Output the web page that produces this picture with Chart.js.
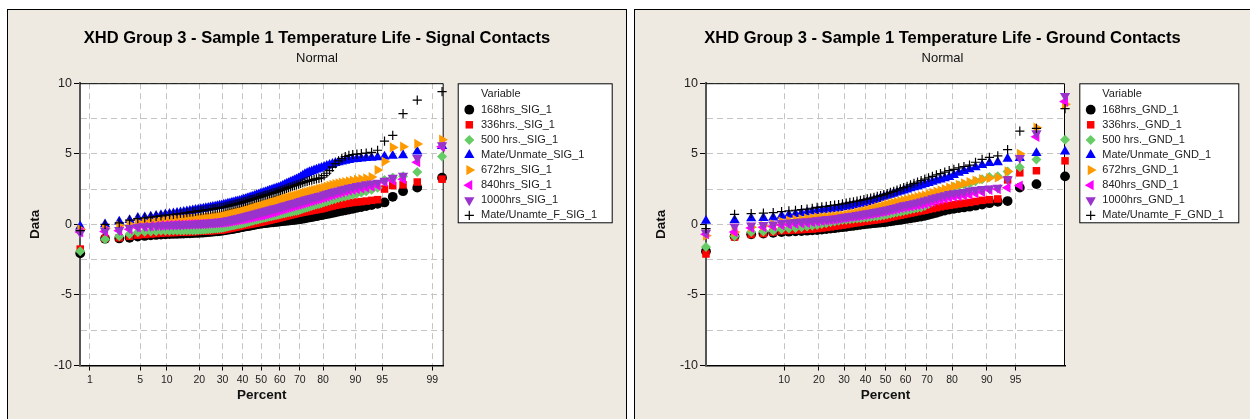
<!DOCTYPE html>
<html><head><meta charset="utf-8">
<script src="https://cdn.jsdelivr.net/npm/chart.js@4/dist/chart.umd.min.js"></script>
<style>
html,body{margin:0;padding:0;background:#fff;width:1250px;height:419px;overflow:hidden;}
.panel{position:absolute;top:9px;height:420px;background:#EEEAE1;border:1px solid #000;box-sizing:border-box;}
#p1{left:7px;width:620px;}
#p2{left:634px;width:630px;}
canvas{position:absolute;}
#c1{left:8px;top:10px;}
#c2{left:635px;top:10px;}
</style></head>
<body>
<div class="panel" id="p1"></div>
<div class="panel" id="p2"></div>
<canvas id="c1" width="618" height="409"></canvas>
<canvas id="c2" width="615" height="409"></canvas>
<script>
// ---------- tick labels ----------
const sigPercentTicks = [1,5,10,20,30,40,50,60,70,80,90,95,99];
const gndPercentTicks = [10,20,30,40,50,60,70,80,90,95];
const yGridValues = [-10,-7.5,-5,-2.5,0,2.5,5,7.5,10];
const yTickLabels = ['-10','','-5','','0','','5','','10'];

// ---------- series names ----------
const sigNames = ['168hrs_SIG_1','336hrs._SIG_1','500 hrs._SIG_1','Mate/Unmate_SIG_1','672hrs_SIG_1','840hrs_SIG_1','1000hrs_SIG_1','Mate/Unamte_F_SIG_1'];
const gndNames = ['168hrs_GND_1','336hrs._GND_1','500 hrs._GND_1','Mate/Unmate_GND_1','672hrs_GND_1','840hrs_GND_1','1000hrs_GND_1','Mate/Unamte_F_GND_1'];

// ---------- Signal contacts data (sorted, 100 values each) ----------
const sig168 = [-2.05,-1.02,-1.0,-0.95,-0.86,-0.82,-0.78,-0.75,-0.72,-0.7,
-0.69,-0.68,-0.67,-0.66,-0.65,-0.64,-0.63,-0.62,-0.61,-0.6,
-0.59,-0.58,-0.56,-0.55,-0.53,-0.52,-0.5,-0.49,-0.47,-0.45,
-0.43,-0.41,-0.38,-0.36,-0.33,-0.31,-0.28,-0.26,-0.23,-0.2,
-0.18,-0.15,-0.13,-0.1,-0.08,-0.05,-0.03,0.0,0.02,0.05,
0.06,0.08,0.09,0.11,0.12,0.14,0.15,0.17,0.18,0.2,
0.21,0.23,0.24,0.26,0.27,0.29,0.3,0.32,0.33,0.35,
0.38,0.4,0.43,0.46,0.49,0.52,0.55,0.58,0.62,0.65,
0.69,0.73,0.77,0.81,0.85,0.9,0.95,1.0,1.05,1.1,
1.17,1.23,1.3,1.37,1.45,1.55,1.95,2.35,2.6,3.3];
const sig336 = [-1.75,-1.0,-0.95,-0.85,-0.76,-0.72,-0.68,-0.65,-0.62,-0.6,
-0.59,-0.58,-0.57,-0.56,-0.55,-0.54,-0.53,-0.52,-0.51,-0.5,
-0.49,-0.48,-0.47,-0.46,-0.45,-0.44,-0.43,-0.42,-0.41,-0.4,
-0.37,-0.34,-0.31,-0.28,-0.25,-0.22,-0.19,-0.16,-0.13,-0.1,
-0.07,-0.05,-0.02,0.0,0.03,0.05,0.08,0.1,0.13,0.15,
0.18,0.21,0.24,0.27,0.3,0.33,0.36,0.39,0.42,0.45,
0.49,0.52,0.56,0.59,0.63,0.66,0.7,0.73,0.77,0.8,
0.83,0.86,0.89,0.92,0.95,0.98,1.01,1.04,1.07,1.1,
1.15,1.2,1.25,1.3,1.35,1.39,1.43,1.47,1.51,1.55,
1.58,1.61,1.65,1.7,1.75,2.5,2.75,2.8,3.0,3.2];
const sig500 = [-1.9,-1.05,-0.85,-0.7,-0.56,-0.53,-0.5,-0.48,-0.46,-0.45,
-0.45,-0.44,-0.44,-0.43,-0.43,-0.42,-0.42,-0.41,-0.41,-0.4,
-0.39,-0.38,-0.36,-0.35,-0.33,-0.32,-0.3,-0.29,-0.27,-0.25,
-0.22,-0.19,-0.15,-0.12,-0.09,-0.06,-0.03,0.0,0.02,0.05,
0.09,0.12,0.16,0.19,0.23,0.26,0.3,0.33,0.37,0.4,
0.43,0.46,0.49,0.52,0.55,0.58,0.61,0.64,0.67,0.7,
0.73,0.76,0.79,0.82,0.85,0.88,0.91,0.94,0.97,1.0,
1.05,1.1,1.15,1.2,1.25,1.3,1.35,1.4,1.45,1.5,
1.56,1.62,1.68,1.74,1.8,1.86,1.92,1.98,2.04,2.1,
2.18,2.26,2.35,2.45,2.6,3.15,3.3,3.4,3.7,4.8];
const sigMate = [-0.15,0.0,0.2,0.3,0.45,0.5,0.55,0.6,0.65,0.7,
0.74,0.77,0.81,0.84,0.88,0.91,0.95,0.98,1.02,1.05,
1.08,1.11,1.14,1.17,1.2,1.23,1.26,1.29,1.32,1.35,
1.39,1.42,1.46,1.49,1.53,1.56,1.6,1.63,1.67,1.7,
1.75,1.79,1.84,1.88,1.93,1.97,2.02,2.06,2.11,2.15,
2.2,2.24,2.29,2.33,2.38,2.42,2.47,2.51,2.56,2.6,
2.66,2.73,2.79,2.86,2.92,2.99,3.05,3.12,3.18,3.25,
3.35,3.45,3.55,3.62,3.7,3.76,3.82,3.88,3.94,4.0,
4.07,4.14,4.21,4.28,4.35,4.4,4.45,4.5,4.55,4.6,
4.63,4.67,4.7,4.72,4.75,4.8,4.85,4.9,5.15,5.55];
const sig672 = [-0.35,-0.3,-0.1,0.0,0.14,0.18,0.21,0.24,0.27,0.3,
0.31,0.33,0.34,0.36,0.37,0.39,0.4,0.42,0.43,0.45,
0.46,0.48,0.49,0.51,0.52,0.54,0.55,0.57,0.58,0.6,
0.64,0.67,0.71,0.74,0.78,0.81,0.85,0.88,0.92,0.95,
0.99,1.02,1.06,1.09,1.13,1.16,1.2,1.23,1.27,1.3,
1.34,1.38,1.42,1.46,1.5,1.54,1.58,1.62,1.66,1.7,
1.74,1.78,1.82,1.86,1.9,1.94,1.98,2.02,2.06,2.1,
2.15,2.19,2.24,2.28,2.33,2.37,2.42,2.46,2.51,2.55,
2.61,2.67,2.73,2.79,2.85,2.9,2.95,3.0,3.05,3.1,
3.15,3.2,3.25,3.35,3.85,4.45,5.45,5.5,5.7,6.0];
const sig840 = [-0.55,-0.5,-0.45,-0.35,-0.22,-0.17,-0.13,-0.1,-0.07,-0.05,
-0.04,-0.03,-0.02,-0.02,-0.01,0.0,0.0,0.01,0.01,0.02,
0.03,0.04,0.05,0.06,0.07,0.08,0.09,0.1,0.11,0.12,
0.14,0.16,0.19,0.21,0.24,0.26,0.28,0.31,0.33,0.35,
0.38,0.41,0.44,0.47,0.5,0.53,0.56,0.59,0.62,0.63,
0.66,0.7,0.73,0.77,0.8,0.84,0.87,0.91,0.95,1.0,
1.04,1.08,1.12,1.16,1.2,1.24,1.28,1.32,1.36,1.4,
1.45,1.49,1.54,1.58,1.63,1.67,1.72,1.76,1.8,1.85,
1.91,1.97,2.03,2.09,2.15,2.21,2.27,2.33,2.39,2.45,
2.5,2.55,2.6,2.67,2.75,3.0,3.1,3.2,4.4,5.5];
const sig1000 = [-0.6,-0.45,-0.4,-0.25,-0.16,-0.13,-0.11,-0.09,-0.07,-0.05,
-0.04,-0.03,-0.02,-0.01,0.0,0.01,0.02,0.03,0.04,0.05,
0.06,0.08,0.09,0.11,0.12,0.14,0.15,0.17,0.18,0.2,
0.23,0.26,0.29,0.32,0.35,0.38,0.41,0.44,0.47,0.5,
0.54,0.57,0.61,0.64,0.68,0.71,0.75,0.78,0.82,0.85,
0.89,0.92,0.96,0.99,1.03,1.06,1.1,1.13,1.17,1.2,
1.24,1.28,1.32,1.36,1.4,1.44,1.48,1.52,1.56,1.6,
1.65,1.69,1.74,1.78,1.83,1.87,1.92,1.96,2.01,2.05,
2.11,2.17,2.23,2.29,2.35,2.41,2.47,2.53,2.59,2.65,
2.72,2.78,2.85,2.9,2.95,3.1,3.3,3.45,4.7,5.6];
const sigMateF = [-0.45,0.0,0.1,0.3,0.4,0.46,0.51,0.56,0.6,0.65,
0.68,0.71,0.74,0.77,0.8,0.83,0.86,0.89,0.92,0.95,
0.97,1.0,1.02,1.05,1.07,1.1,1.12,1.15,1.17,1.2,
1.23,1.27,1.3,1.34,1.37,1.41,1.44,1.48,1.51,1.55,
1.59,1.63,1.67,1.71,1.75,1.79,1.83,1.87,1.91,1.95,
1.99,2.03,2.07,2.11,2.15,2.19,2.23,2.27,2.31,2.35,
2.4,2.45,2.5,2.55,2.6,2.65,2.7,2.75,2.8,2.85,
2.9,2.95,3.0,3.05,3.1,3.14,3.18,3.22,3.26,3.3,
3.45,3.62,3.8,4.05,4.3,4.5,4.65,4.8,4.88,4.95,
4.98,5.02,5.05,5.1,5.25,5.9,6.3,7.85,8.8,9.4];

// ---------- Ground contacts data (sorted, 60 values each) ----------
const gnd168 = [-1.9,-0.85,-0.7,-0.65,-0.6,-0.55,-0.52,-0.5,-0.47,-0.45,
-0.42,-0.4,-0.37,-0.34,-0.3,-0.27,-0.23,-0.2,-0.17,-0.13,
-0.1,-0.07,-0.03,0.0,0.03,0.05,0.08,0.1,0.13,0.15,
0.18,0.21,0.25,0.28,0.31,0.35,0.39,0.43,0.47,0.51,
0.55,0.6,0.67,0.74,0.82,0.9,0.97,1.05,1.1,1.15,
1.2,1.25,1.32,1.4,1.5,1.6,1.65,2.6,2.85,3.4];
const gnd336 = [-2.1,-0.9,-0.72,-0.65,-0.55,-0.45,-0.43,-0.4,-0.38,-0.35,
-0.33,-0.3,-0.26,-0.22,-0.18,-0.13,-0.09,-0.05,-0.01,0.04,
0.08,0.12,0.16,0.2,0.23,0.27,0.3,0.33,0.37,0.4,
0.45,0.5,0.55,0.6,0.65,0.7,0.75,0.8,0.85,0.9,
0.95,1.0,1.06,1.12,1.18,1.24,1.3,1.35,1.4,1.45,
1.5,1.55,1.62,1.7,1.75,1.8,3.15,3.65,3.8,4.5];
const gnd500 = [-1.6,-0.85,-0.55,-0.5,-0.45,-0.35,-0.3,-0.25,-0.2,-0.15,
-0.1,-0.05,0.02,0.08,0.15,0.2,0.25,0.3,0.33,0.36,
0.39,0.42,0.44,0.46,0.49,0.52,0.55,0.58,0.61,0.65,
0.7,0.75,0.8,0.85,0.9,0.95,1.0,1.05,1.1,1.15,
1.2,1.3,1.45,1.6,1.8,2.0,2.25,2.5,2.65,2.75,
2.82,2.9,3.05,3.2,3.35,3.4,3.75,4.05,4.6,6.0];
const gndMate = [0.25,0.3,0.42,0.45,0.48,0.6,0.67,0.73,0.79,0.84,
0.9,0.95,0.99,1.03,1.07,1.11,1.15,1.2,1.25,1.3,
1.35,1.4,1.45,1.5,1.57,1.64,1.72,1.8,1.88,1.95,
2.02,2.1,2.17,2.25,2.32,2.4,2.47,2.55,2.62,2.7,
2.77,2.85,2.93,3.01,3.1,3.18,3.27,3.35,3.5,3.65,
3.78,3.9,4.05,4.2,4.35,4.4,4.65,4.7,5.05,5.15];
const gnd672 = [-0.8,-0.55,-0.2,-0.1,0.0,0.2,0.27,0.33,0.38,0.42,
0.46,0.5,0.53,0.55,0.58,0.6,0.63,0.65,0.7,0.75,
0.8,0.85,0.9,0.95,1.02,1.08,1.15,1.22,1.28,1.35,
1.41,1.47,1.53,1.58,1.64,1.7,1.76,1.82,1.88,1.94,
2.0,2.05,2.14,2.23,2.32,2.41,2.5,2.6,2.7,2.8,
2.9,3.0,3.1,3.2,3.28,3.32,3.75,5.0,6.85,8.5];
const gnd840 = [-0.7,-0.55,-0.25,-0.2,-0.15,-0.05,-0.01,0.03,0.07,0.11,
0.15,0.2,0.24,0.28,0.32,0.36,0.4,0.45,0.48,0.52,
0.55,0.58,0.62,0.65,0.69,0.73,0.77,0.81,0.86,0.9,
0.95,1.0,1.05,1.1,1.15,1.2,1.24,1.28,1.32,1.36,
1.4,1.45,1.52,1.6,1.68,1.75,1.83,1.9,1.95,2.0,
2.05,2.1,2.2,2.3,2.45,2.5,2.6,2.75,6.2,8.7];
const gnd1000 = [-0.6,-0.15,-0.08,-0.04,0.0,0.1,0.14,0.17,0.2,0.23,
0.26,0.3,0.33,0.36,0.39,0.42,0.46,0.5,0.54,0.58,
0.62,0.66,0.7,0.75,0.79,0.83,0.87,0.91,0.96,1.0,
1.05,1.1,1.16,1.22,1.28,1.35,1.4,1.45,1.5,1.55,
1.62,1.7,1.77,1.85,1.92,2.0,2.07,2.15,2.2,2.25,
2.3,2.4,2.45,2.5,2.55,2.6,3.2,4.7,6.45,9.1];
const gndMateF = [-0.3,0.7,0.76,0.8,0.83,0.9,0.95,1.0,1.05,1.08,
1.14,1.2,1.24,1.28,1.32,1.36,1.4,1.45,1.5,1.55,
1.6,1.65,1.7,1.75,1.8,1.86,1.92,1.98,2.04,2.1,
2.18,2.26,2.34,2.42,2.51,2.6,2.7,2.8,2.9,3.0,
3.1,3.2,3.3,3.4,3.5,3.6,3.7,3.8,3.9,4.0,
4.1,4.2,4.4,4.6,4.75,4.85,5.3,6.6,6.8,8.2];

const sigSeries = [sig168, sig336, sig500, sigMate, sig672, sig840, sig1000, sigMateF];
const gndSeries = [gnd168, gnd336, gnd500, gndMate, gnd672, gnd840, gnd1000, gndMateF];

// ---------- marker styles ----------
const markerColors = ['#000000','#FF0000','#66CC66','#0000FF','#FF9900','#FF00FF','#9933CC','#000000'];
const markerStyles = ['circle','rect','rectRot','triangle','triangle','triangle','triangle','cross'];
const markerRot = [0,0,0,0,90,-90,180,0];
const markerRadius = [4.9,5.3,5.0,5.9,5.9,5.9,5.9,4.6];

const FONT = "'Liberation Sans', Arial, sans-serif";

// inverse standard normal CDF (probability scale transform)
function probit(p){
  const a=[-3.969683028665376e+01,2.209460984245205e+02,-2.759285104469687e+02,1.383577518672690e+02,-3.066479806614716e+01,2.506628277459239e+00];
  const b=[-5.447609879822406e+01,1.615858368580409e+02,-1.556989798598866e+02,6.680131188771720e+01,-1.328068155288572e+01];
  const c=[-7.784894002430293e-03,-3.223964580411365e-01,-2.400758277161838e+00,-2.549671010249599e+00,4.374664141464968e+00,2.938163982698783e+00];
  const d=[7.784695709041462e-03,3.224671290700398e-01,2.445134137142996e+00,3.754408661907416e+00];
  const pl=0.02425, ph=1-pl; let q,r;
  if(p<pl){q=Math.sqrt(-2*Math.log(p));return (((((c[0]*q+c[1])*q+c[2])*q+c[3])*q+c[4])*q+c[5])/((((d[0]*q+d[1])*q+d[2])*q+d[3])*q+1);}
  if(p<=ph){q=p-0.5;r=q*q;return (((((a[0]*r+a[1])*r+a[2])*r+a[3])*r+a[4])*r+a[5])*q/(((((b[0]*r+b[1])*r+b[2])*r+b[3])*r+b[4])*r+1);}
  q=Math.sqrt(-2*Math.log(1-p));return -(((((c[0]*q+c[1])*q+c[2])*q+c[3])*q+c[4])*q+c[5])/((((d[0]*q+d[1])*q+d[2])*q+d[3])*q+1);
}

const probPlot = {
  id: 'probPlot',
  beforeDraw(chart){
    const {ctx, chartArea:a} = chart;
    ctx.save(); ctx.fillStyle='#fff'; ctx.fillRect(a.left,a.top,a.right-a.left,a.bottom-a.top); ctx.restore();
  },
  beforeDatasetsDraw(chart){
    const {ctx, chartArea:a} = chart;
    ctx.save(); ctx.strokeStyle='#000'; ctx.lineWidth=1;
    ctx.beginPath(); ctx.moveTo(a.left,a.top+0.5); ctx.lineTo(a.right-0.5,a.top+0.5); ctx.lineTo(a.right-0.5,a.bottom); ctx.stroke();
    ctx.restore();
  },
  afterDraw(chart, args, o){
    const ctx = chart.ctx;
    ctx.save();
    ctx.fillStyle='#fff'; ctx.fillRect(o.x,o.y,o.w,o.h);
    ctx.strokeStyle='#000'; ctx.lineWidth=1; ctx.strokeRect(o.x+0.5,o.y+0.5,o.w-1,o.h-1);
    ctx.font = '11px ' + FONT; ctx.textBaseline='middle'; ctx.textAlign='left';
    ctx.fillStyle='#222'; ctx.fillText('Variable', o.textX, o.titleY);
    chart.data.datasets.forEach((ds,k)=>{
      const y = o.row0 + k*o.rowStep;
      ctx.fillStyle = ds.backgroundColor; ctx.strokeStyle = ds.borderColor; ctx.lineWidth = ds.pointBorderWidth || 1;
      Chart.helpers.drawPoint(ctx, {pointStyle: ds.pointStyle, rotation: ds.pointRotation||0, radius: ds.pointRadius, borderWidth: ds.pointBorderWidth||0}, o.markerX, y);
      ctx.fillStyle='#222'; ctx.fillText(ds.label, o.textX, y);
    });
    ctx.restore();
  }
};

function makeChart(id, cfg){
  const n = cfg.series[0].length;
  const datasets = cfg.series.map((vals,k)=>({
    label: cfg.names[k],
    data: vals.map((v,i)=>({x: probit((i+1-0.3)/(n+0.4)), y: v})),
    pointStyle: markerStyles[k], pointRotation: markerRot[k], pointRadius: markerRadius[k],
    pointHoverRadius: markerRadius[k],
    backgroundColor: markerColors[k], borderColor: markerColors[k],
    pointBorderWidth: k===7 ? 1.2 : 0,
    showLine: false, clip: false, order: 7-k
  }));
  const pct = cfg.percentTicks;
  return new Chart(document.getElementById(id), {
    type: 'scatter',
    data: {datasets},
    options: {
      responsive: false, animation: false, events: [],
      layout: {padding: {top:0,left:0,right:0,bottom:cfg.padBottom}},
      plugins: {
        legend: {display:false}, tooltip: {enabled:false},
        title: {display:true, text: cfg.title, color:'#000', font:{family:FONT,size:16.5,weight:'bold'}, padding:{top:19,bottom:0}},
        subtitle: {display:true, text:'Normal', color:'#111', font:{family:FONT,size:13}, padding:{top:2,bottom:cfg.subPadBottom}},
        probPlot: cfg.legend
      },
      scales: {
        x: {
          type:'linear', position:'bottom', min: cfg.xmin, max: cfg.xmax,
          afterBuildTicks: s => { s.ticks = pct.map(p=>({value: probit(p/100)})); },
          afterFit: s => { s.height = 50; },
          ticks: {autoSkip:false, maxRotation:0, padding:3, color:'#222', font:{family:FONT,size:10.5},
                  callback: (v,i) => String(pct[i])},
          grid: {color:'#C4C4C4', lineWidth:1, drawTicks:true, tickLength:5, tickColor:'#000', tickWidth:1, tickBorderDash:[]},
          border: {display:true, color:'#000', width:1.5, dash:[6,4]},
          title: {display:true, text:'Percent', color:'#111', font:{family:FONT,size:13.5,weight:'bold'}, padding:{top:0,bottom:12.4}}
        },
        y: {
          type:'linear', position:'left', min:-10, max:10,
          afterBuildTicks: s => { s.ticks = yGridValues.map(v=>({value:v})); },
          afterFit: s => { s.width = cfg.yWidth; },
          ticks: {autoSkip:false, padding:2, color:'#222', font:{family:FONT,size:12.5},
                  callback: (v,i) => yTickLabels[i]},
          grid: {color:'#C4C4C4', lineWidth:1, drawTicks:true, tickLength:6, tickWidth:1, tickBorderDash:[],
                 tickColor: c => (c.tick && yTickLabels[c.index] !== '') ? '#000' : 'rgba(0,0,0,0)'},
          border: {display:true, color:'#555', width:2, dash:[6,4]},
          title: {display:true, text:'Data', color:'#111', font:{family:FONT,size:13.5,weight:'bold'}, padding:{top:cfg.yTitlePad,bottom:0}}
        },
        yRight: {
          type:'linear', position:'right', min:-10, max:10, display:true,
          afterFit: s => { s.width = cfg.rightWidth; },
          ticks:{display:false}, grid:{display:false, drawTicks:false}, border:{display:false}
        }
      }
    },
    plugins: [probPlot]
  });
}

makeChart('c1', {
  series: sigSeries, names: sigNames, percentTicks: sigPercentTicks,
  title: 'XHD Group 3 - Sample 1 Temperature Life - Signal Contacts',
  xmin: -2.462, xmax: 2.481, yWidth: 72, rightWidth: 182.3, padBottom: 3.5, subPadBottom: 16.8, yTitlePad: 18.9,
  legend: {x:449.7, y:73.3, w:155, h:140, markerX:461.3, textX:473, titleY:84.3, row0:99.7, rowStep:15.1}
});
makeChart('c2', {
  series: gndSeries, names: gndNames, percentTicks: gndPercentTicks,
  title: 'XHD Group 3 - Sample 1 Temperature Life - Ground Contacts',
  xmin: -2.27, xmax: 2.27, yWidth: 71, rightWidth: 185, padBottom: 3.5, subPadBottom: 16.8, yTitlePad: 18.6,
  legend: {x:444.3, y:73.3, w:160, h:140, markerX:455.7, textX:467.3, titleY:84.3, row0:99.7, rowStep:15.1}
});
</script>
</body></html>
